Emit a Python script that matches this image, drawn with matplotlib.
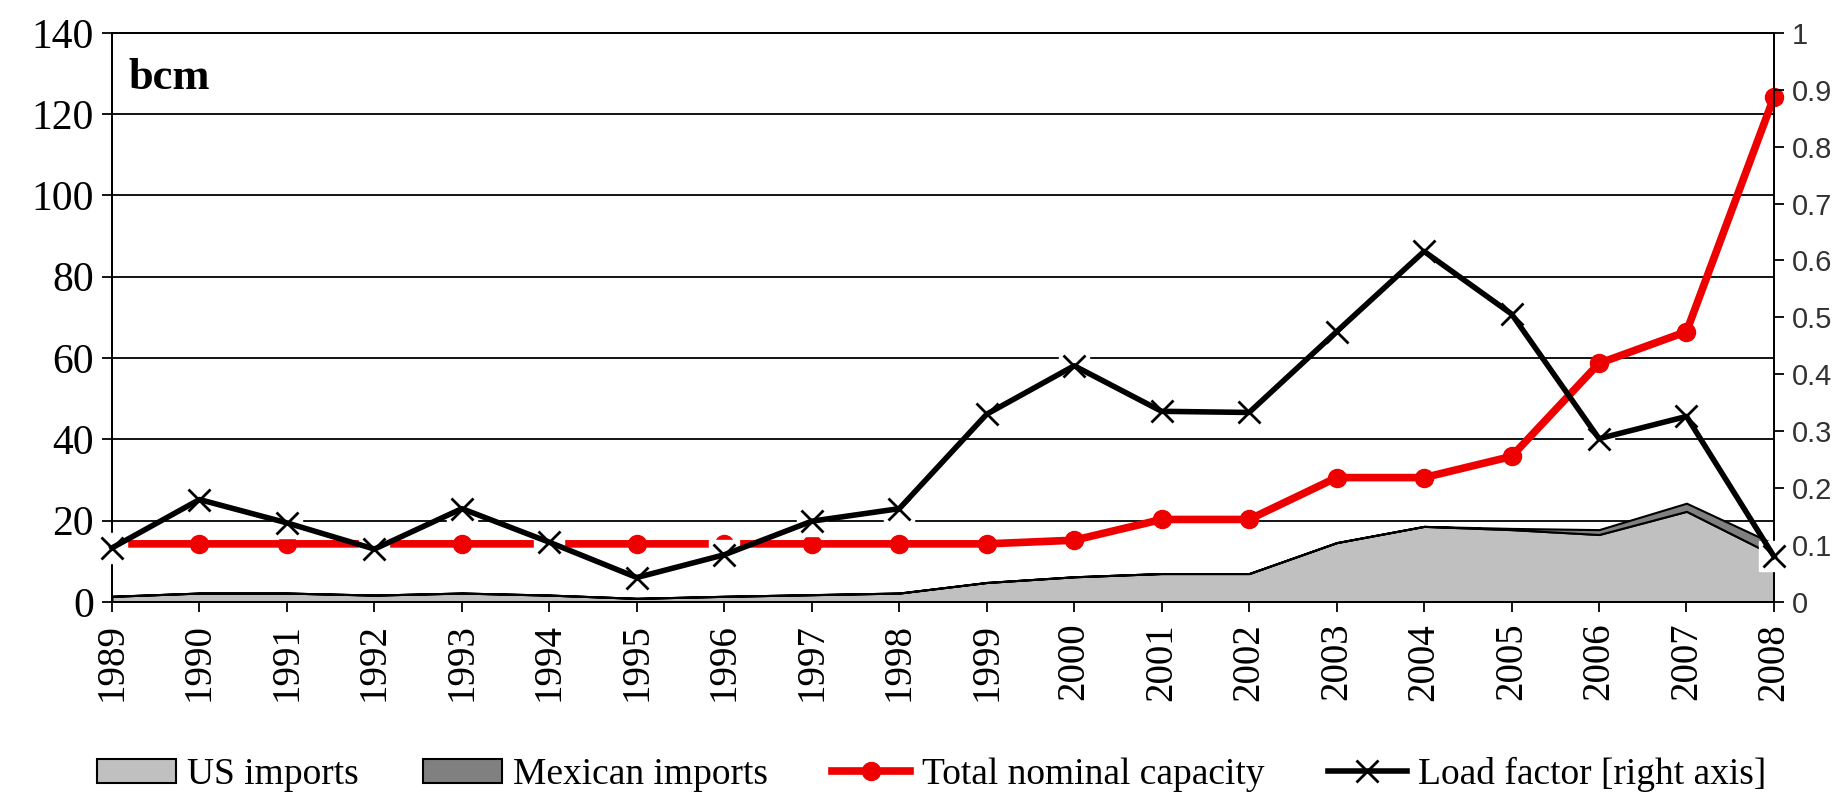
## import libraries

import numpy as np
import matplotlib
matplotlib.use("Agg")
import matplotlib.pyplot as plt

## data

years = [str(y) for y in range(1989, 2009)]

us_imports = [1.4, 2.2, 2.2, 1.7, 2.2, 1.7, 0.9, 1.4, 1.8, 2.2, 4.8, 6.2, 7.0, 7.0,
              14.6, 18.6, 17.8, 16.6, 22.3, 11.5]
mexican_imports = [0, 0, 0, 0, 0, 0, 0, 0, 0, 0, 0, 0, 0, 0,
                   0, 0, 0.3, 1.2, 2.0, 2.8]
total_capacity = [14.3, 14.3, 14.3, 14.3, 14.3, 14.3, 14.3, 14.3, 14.3, 14.3, 14.3, 15.2,
                  20.3, 20.3, 30.6, 30.6, 35.8, 58.7, 66.5, 124.2]
load_factor = [0.095, 0.18, 0.139, 0.093, 0.164, 0.105, 0.043, 0.083, 0.142, 0.164,
               0.33, 0.415, 0.335, 0.333, 0.475, 0.616, 0.506, 0.287, 0.326, 0.080]

serif = "Liberation Serif"
sans = "Liberation Sans"

## figure

fig = plt.figure(figsize=(18.45, 8), dpi=100)
ax = fig.add_axes([0.0607, 0.2475, 0.9008, 0.7115])
x = np.arange(len(years))

ax.stackplot(x, us_imports, mexican_imports,
             colors=["#c0c0c0", "#808080"], edgecolor="black", linewidth=1.5,
             labels=["US imports", "Mexican imports"], zorder=2)
red, = ax.plot(x, total_capacity, color="#ee0000", lw=5.5, marker="o", ms=13,
               label="Total nominal capacity", zorder=3, clip_on=False)

ax.set_xlim(0, len(years) - 1)
ax.set_ylim(0, 140)
ax.set_yticks(range(0, 141, 20))
ax.yaxis.grid(True, color="black", lw=1.3, zorder=1)
ax.set_axisbelow(True)
ax.set_xticks(x)
ax.set_xticklabels(years, rotation=90, fontfamily=serif, fontsize=28)
for lab in ax.get_yticklabels():
    lab.set_fontfamily(serif)
    lab.set_fontsize(30)
ax.tick_params(axis="both", direction="out", length=7, width=1.3, color="black")
ax.tick_params(axis="y", pad=6)
ax.tick_params(axis="x", pad=8)
for s in ax.spines.values():
    s.set_linewidth(1.3)

ax.text(0.01, 0.92, "bcm", transform=ax.transAxes, fontfamily=serif,
        fontweight="bold", fontsize=32, va="center", ha="left")

# right axis: load factor, x markers sitting on white boxes
ax2 = ax.twinx()
ax2.plot(x, load_factor, ls="none", marker="s", ms=21, mfc="white", mec="white",
         zorder=3, clip_on=False)
lf, = ax2.plot(x, load_factor, color="black", lw=4, marker="x", ms=16, mew=2,
               label="Load factor [right axis]", zorder=4, clip_on=False)
ax2.set_ylim(0, 1)
ax2.set_yticks(np.arange(0, 1.01, 0.1))
ax2.set_yticklabels(["0", "0.1", "0.2", "0.3", "0.4", "0.5", "0.6", "0.7", "0.8", "0.9", "1"],
                    fontfamily=sans, fontsize=21, color="#333333")
ax2.tick_params(axis="y", direction="out", length=7, width=1.3, pad=6)
for s in ax2.spines.values():
    s.set_linewidth(1.3)

handles = ax.get_legend_handles_labels()[0] + [lf]
labels = ["US imports", "Mexican imports", "Total nominal capacity", "Load factor [right axis]"]
fig.legend(handles, labels, loc="lower center", bbox_to_anchor=(0.505, -0.032), ncol=4,
           frameon=False, prop={"family": serif, "size": 27}, handlelength=2.1,
           handleheight=0.6, columnspacing=1.7, handletextpad=0.3)

plt.savefig("out.png", dpi=100)
